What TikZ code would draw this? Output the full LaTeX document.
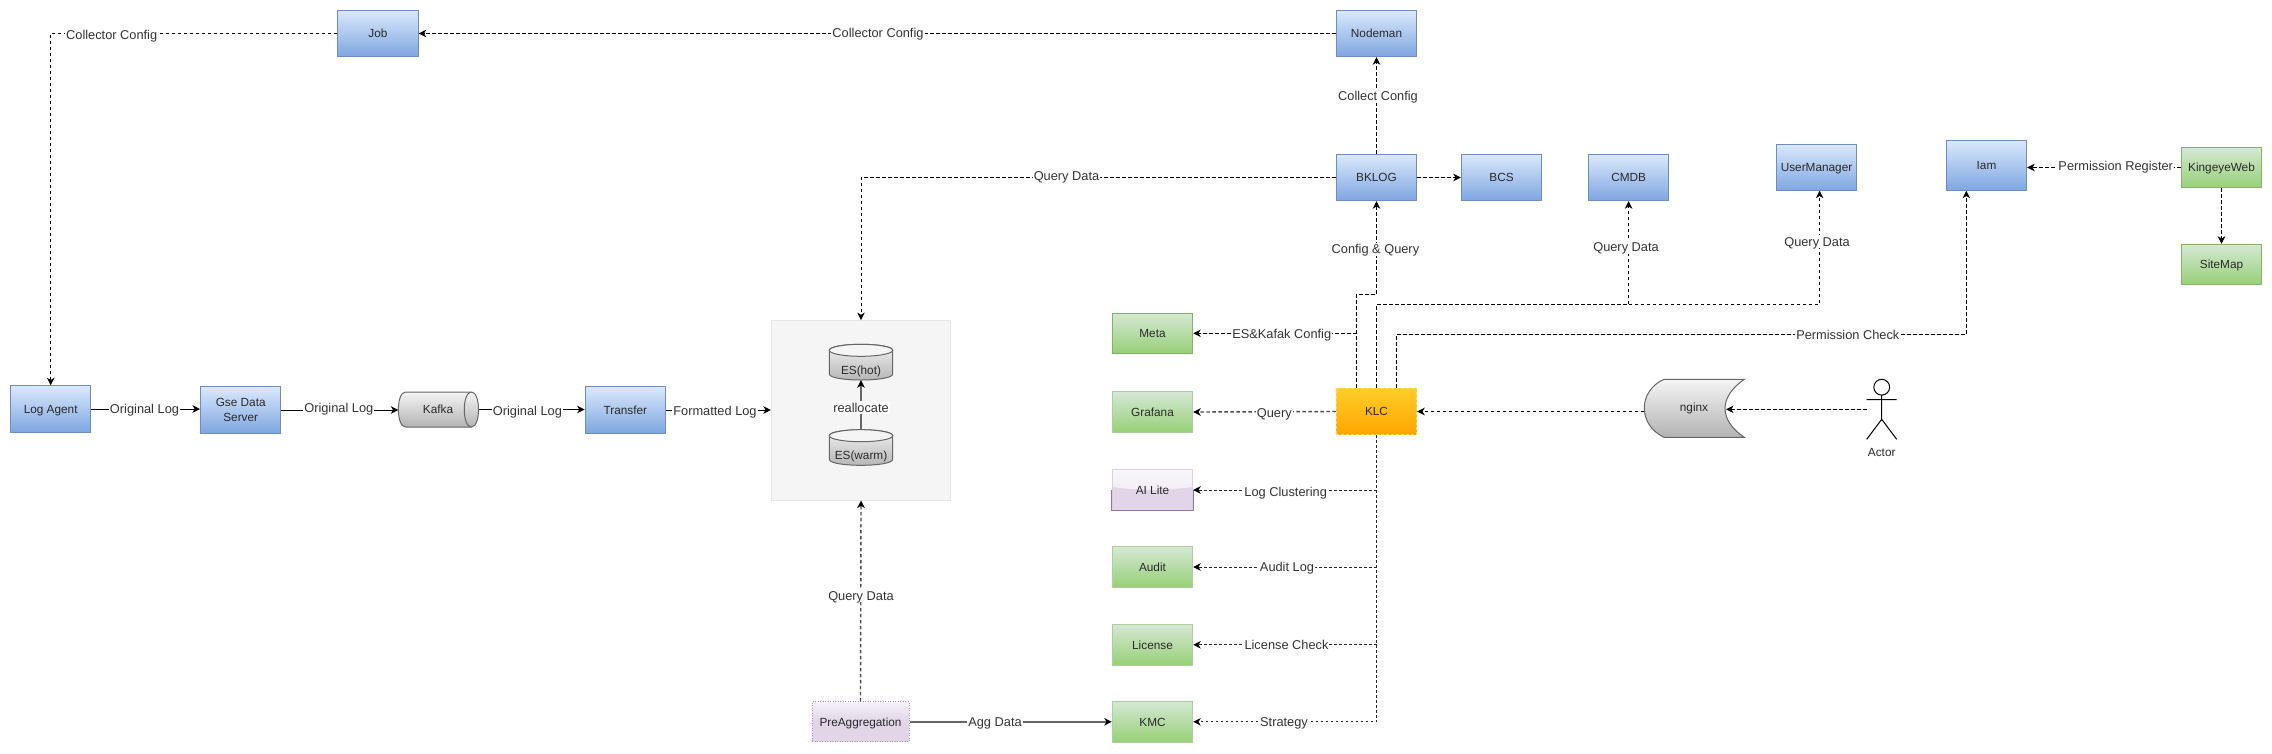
\documentclass[tikz,border=0pt]{standalone}
\usepackage{fontspec}
\setmainfont{Liberation Sans}
\usetikzlibrary{arrows.meta}
\definecolor{txt}{HTML}{2A2A2A}
\definecolor{labtxt}{HTML}{333333}
\definecolor{blueA}{HTML}{DAE8FC}\definecolor{blueB}{HTML}{7EA6E0}\definecolor{blueC}{HTML}{6C8EBF}
\definecolor{greenA}{HTML}{D5E8D4}\definecolor{greenB}{HTML}{97D077}\definecolor{greenC}{HTML}{82B366}
\definecolor{orangeA}{HTML}{FFCD28}\definecolor{orangeB}{HTML}{FFA500}\definecolor{orangeC}{HTML}{FFD966}
\definecolor{purpleA}{HTML}{E1D5E7}\definecolor{purpleC}{HTML}{9673A6}
\tikzset{
  boxbase/.style={rectangle,inner sep=0pt,align=center,text=txt,line width=1pt,minimum width=80.4pt,
    text height=8.5pt,text depth=0pt,
    font=\fontsize{11.8pt}{14.6pt}\selectfont},
  bluebox/.style={boxbase,minimum height=46.4pt,draw=blueC,top color=blueA,bottom color=blueB},
  greenbox/.style={boxbase,minimum height=40.4pt,draw=greenC,top color=greenA,bottom color=greenB},
  softgreen/.style={boxbase,minimum height=40.4pt,draw=greenC!65,top color=greenA,bottom color=greenB},
  klcbox/.style={boxbase,minimum height=46.4pt,draw=orangeC,dash pattern=on 3pt off 2pt,top color=orangeA,bottom color=orangeB},
  glassbox/.style={boxbase,minimum height=40.4pt,draw=purpleC!35,fill=purpleA,
    path picture={\shade[top color=white!80!purpleA,bottom color=white!40!purpleA]
      (path picture bounding box.north west) -- (path picture bounding box.north east)
      -- ([yshift=-17pt]path picture bounding box.north east)
      .. controls ([xshift=-25pt,yshift=-21pt]path picture bounding box.north east)
      and ([xshift=25pt,yshift=-21pt]path picture bounding box.north west)
      .. ([yshift=-17pt]path picture bounding box.north west) -- cycle;}},
  preaggbox/.style={boxbase,minimum width=97pt,minimum height=40pt,draw=purpleC!80,dash pattern=on 1pt off 1.5pt,
    top color=white!70!purpleA,bottom color=purpleA,middle color=purpleA},
  esbox/.style={rectangle,inner sep=0pt,draw=black!10,fill=black!4,line width=1pt,minimum width=179.4pt,minimum height=179.4pt},
  ghost/.style={rectangle,inner sep=0pt,minimum width=63.4pt,minimum height=35.6pt},
  shapefill/.style={line width=1pt,draw=black!60,top color=black!4,bottom color=black!30},
  conn/.style={line width=1pt,-{Stealth[length=7.5pt,width=7.5pt,inset=2.2pt,color=black]}},
  plain/.style={conn,draw=black},
  grayline/.style={conn,draw=black!60,line width=1.4pt},
  dl/.style={conn,dash pattern=on 3.5pt off 2.5pt},
  dlnoarrow/.style={line width=1pt,dash pattern=on 3.5pt off 2.5pt},
  dlgray/.style={dl,draw=black!70,line width=1.4pt},
  dlfine/.style={conn,dash pattern=on 2.6pt off 2.4pt,draw=black!85},
  lab/.style={inner xsep=1pt,inner ysep=2pt,fill=white,text=labtxt,text height=9.2pt,text depth=0pt,font=\fontsize{12.8pt}{15pt}\selectfont},
  plaintext/.style={inner sep=0pt,text=txt,text height=8.5pt,text depth=0pt,font=\fontsize{11.8pt}{15pt}\selectfont},
}
\begin{document}
\begin{tikzpicture}[x=1pt,y=-1pt]
\useasboundingbox[fill=white] (0,0) rectangle (2272,753);

% containers and shape drawings
\node[esbox] (es) at (861,410.3) {};
\path[shapefill] (829.3,350.3) -- (829.3,374) .. controls (829.3,382) and (892.7,382) .. (892.7,374) -- (892.7,350.3) .. controls (892.7,342.3) and (829.3,342.3) .. (829.3,350.3) -- cycle;
\draw[line width=1pt,draw=black!60,fill=black!4] (861,350.3) ellipse [x radius=31.7,y radius=6];
\path[shapefill] (829.3,435.7) -- (829.3,459.3) .. controls (829.3,467.3) and (892.7,467.3) .. (892.7,459.3) -- (892.7,435.7) .. controls (892.7,427.7) and (829.3,427.7) .. (829.3,435.7) -- cycle;
\draw[line width=1pt,draw=black!60,fill=black!4] (861,435.7) ellipse [x radius=31.7,y radius=6];
\path[shapefill] (405.5,392) -- (471.4,392) .. controls (480.9,392) and (480.9,427) .. (471.4,427) -- (405.5,427) .. controls (396,427) and (396,392) .. (405.5,392) -- cycle;
\draw[line width=1pt,draw=black!60] (471.4,392) .. controls (461.9,392) and (461.9,427) .. (471.4,427);
\path[shapefill] (1664,379.3) -- (1744.3,379.3) .. controls (1718.6,397) and (1718.6,420) .. (1744.3,437.3) -- (1664,437.3) .. controls (1637.7,425) and (1637.7,391) .. (1664,379.3) -- cycle;
\draw[line width=1pt,black] (1881.7,387.2) circle [radius=7.9]
  (1881.7,395.1) -- (1881.7,419.3) -- (1866.7,439.3)
  (1881.7,419.3) -- (1896.7,439.3)
  (1866.7,399.5) -- (1896.7,399.5);

% nodes
\node[bluebox] (loga) at (50.7,409) {Log Agent};
\node[bluebox,text height={},text depth={}] (gse) at (240.7,410) {Gse Data\\Server};
\node[ghost,minimum width=80pt,minimum height=35pt] (kafka) at (438.5,409.5) {};
\node[plaintext] (kafkat) at (438,409.5) {Kafka};
\node[bluebox] (transfer) at (625.3,410) {Transfer};
\node[ghost] (eshot) at (861,362.2) {};
\node[ghost] (eswarm) at (861,447.5) {};
\node[plaintext] (eshott) at (861,370.7) {ES(hot)};
\node[plaintext] (eswarmt) at (861,455.7) {ES(warm)};
\node[bluebox] (job) at (378,33.5) {Job};
\node[bluebox] (nodeman) at (1376.5,33.5) {Nodeman};
\node[bluebox] (bklog) at (1376.5,177.5) {BKLOG};
\node[bluebox] (bcs) at (1501.5,177.5) {BCS};
\node[bluebox] (cmdb) at (1628.6,177.5) {CMDB};
\node[bluebox] (um) at (1816.5,167.5) {UserManager};
\node[bluebox,minimum height=50.4pt] (iam) at (1986.5,165.5) {Iam};
\node[greenbox] (kweb) at (2221.5,167.5) {KingeyeWeb};
\node[greenbox] (sitemap) at (2221.5,264.5) {SiteMap};
\node[greenbox] (meta) at (1152.5,333.3) {Meta};
\node[softgreen] (grafana) at (1152.5,412) {Grafana};
\node[glassbox] (ailite) at (1152.5,490) {AI Lite};
\draw[line width=1pt,draw=purpleC] (ailite.west) -- (ailite.south west) -- (ailite.south east) -- (ailite.east);
\node[softgreen] (audit) at (1152.5,567) {Audit};
\node[softgreen] (license) at (1152.5,644.8) {License};
\node[softgreen] (kmc) at (1152.5,721.8) {KMC};
\node[preaggbox] (preagg) at (860.5,721.8) {PreAggregation};
\node[klcbox] (klc) at (1376.5,411.5) {KLC};
\node[ghost,minimum width=100pt,minimum height=58pt] (nginx) at (1694.3,408.3) {};
\node[plaintext] (nginxt) at (1694,407.7) {nginx};
\node[ghost,minimum width=30pt,minimum height=60pt] (actor) at (1881.7,409.3) {};
\node[plaintext] (actort) at (1881.7,452.7) {Actor};

% junction coordinates
\coordinate (klcL) at ([xshift=-20pt]klc.north);
\coordinate (klcR) at ([xshift=20pt]klc.north);
\coordinate (bend1) at (1376.5,294.3);
\coordinate (bend2) at (1628.6,304.3);
\coordinate (umin) at (1819.6,190.7);
\coordinate (iamin) at (1966.3,190.7);
\coordinate (bend3) at (1396.5,334.3);

% connectors
\draw[dl] (job.west) -| (loga.north);
\draw[dl] (nodeman.west) -- (job.east);
\draw[dl] (bklog.north) -- (nodeman.south);
\draw[dl] (bklog.east) -- (bcs.west);
\draw[dl] (bklog.west) -| (es.north);
\draw[dl] (klcL) |- (bend1) -- (bklog.south);
\draw[dl] (klcL |- meta.east) -- (meta.east);
\draw[dlnoarrow] (klc.north) |- (bend2);
\draw[dl] (bend2) -- (cmdb.south);
\draw[dl] (bend2) -| (umin);
\draw[dl] (klcR) |- (bend3) -| (iamin);
\draw[dl] (kweb.west) -- (iam.east |- kweb.west);
\draw[dl] (kweb.south) -- (sitemap.north);
\draw[dlgray] (klc.west) -- (grafana.east);
\draw[dl] (nginx.west |- klc.east) -- (klc.east);
\draw[dl] (actor.west) -- (1726,409.3);
\draw[dlfine] (klc.south) |- (kmc.east);
\draw[dlfine] (klc.south |- ailite.east) -- (ailite.east);
\draw[dlfine] (klc.south |- audit.east) -- (audit.east);
\draw[dlfine] (klc.south |- license.east) -- (license.east);
\draw[plain] (loga.east) -- (gse.west |- loga.east);
\draw[plain] (gse.east) -- (kafka.west |- gse.east);
\draw[plain] (kafka.east) -- (transfer.west |- kafka.east);
\draw[plain] (transfer.east) -- (es.west |- transfer.east);
\draw[grayline] (eswarm.north) -- (eshot.south);
\draw[grayline] (preagg.east) -- (kmc.west);
\draw[dlgray] (preagg.north) -- (es.south);

% connector labels
\node[lab] (l1) at (111.7,34.5) {Collector Config};
\node[lab] (l2) at (878,33) {Collector Config};
\node[lab] (l3) at (1378,96) {Collect Config};
\node[lab] (l4) at (1066.5,175.5) {Query Data};
\node[lab] (l5) at (1375.4,249.3) {Config \& Query};
\node[lab] (l6) at (1626,247.3) {Query Data};
\node[lab] (l7) at (1817,241.7) {Query Data};
\node[lab] (l8) at (1847.8,334.5) {Permission Check};
\node[lab] (l9) at (2115.7,166) {Permission Register};
\node[lab] (l10) at (1281.7,334) {ES\&Kafak Config};
\node[lab] (l11) at (1274.3,413) {Query};
\node[lab] (l12) at (1285.7,491.7) {Log Clustering};
\node[lab] (l13) at (1287,567) {Audit Log};
\node[lab] (l14) at (1286.5,645) {License Check};
\node[lab] (l15) at (1284,721.5) {Strategy};
\node[lab] (l16) at (995,721.6) {Agg Data};
\node[lab] (l17) at (861,595.7) {Query Data};
\node[lab] (l18) at (144.5,409.3) {Original Log};
\node[lab] (l19) at (338.8,408) {Original Log};
\node[lab] (l20) at (527.4,410.7) {Original Log};
\node[lab] (l21) at (715,410.7) {Formatted Log};
\node[lab] (l22) at (861,407.5) {reallocate};
\end{tikzpicture}
\end{document}
